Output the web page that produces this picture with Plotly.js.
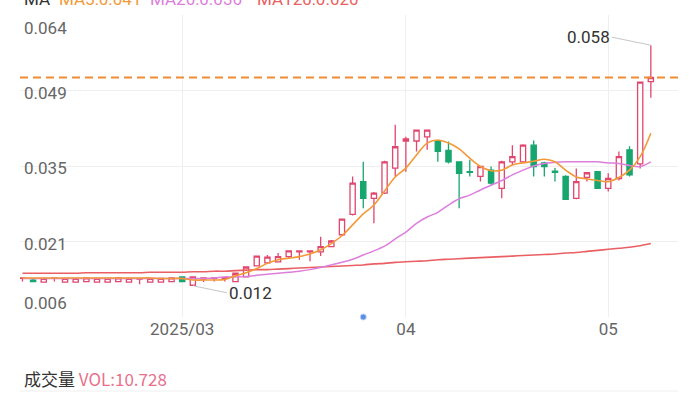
<!DOCTYPE html>
<html><head><meta charset="utf-8">
<script src="https://cdn.plot.ly/plotly-3.0.1.min.js"></script>
<style>html,body{margin:0;padding:0;background:#fff;}#chart{width:700px;height:394px;}</style>
</head><body><div id="chart"></div>
<script>
const dates = [
 '2025-02-10','2025-02-11','2025-02-12','2025-02-13','2025-02-14','2025-02-17','2025-02-18','2025-02-19','2025-02-20','2025-02-21',
 '2025-02-24','2025-02-25','2025-02-26','2025-02-27','2025-02-28',
 '2025-03-03','2025-03-04','2025-03-05','2025-03-06','2025-03-07','2025-03-10','2025-03-11','2025-03-12','2025-03-13','2025-03-14',
 '2025-03-17','2025-03-18','2025-03-19','2025-03-20','2025-03-21','2025-03-24','2025-03-25','2025-03-26','2025-03-27','2025-03-28','2025-03-31',
 '2025-04-01','2025-04-02','2025-04-03','2025-04-07','2025-04-08','2025-04-09','2025-04-10','2025-04-11','2025-04-14','2025-04-15',
 '2025-04-16','2025-04-17','2025-04-22','2025-04-23','2025-04-24','2025-04-25','2025-04-28','2025-04-29','2025-04-30',
 '2025-05-02','2025-05-06','2025-05-07','2025-05-08','2025-05-09'];
const open = [0.0134,0.0131,0.0127,0.0134,0.0127,0.0127,0.0128,0.0127,0.0127,0.0128,
 0.0127,0.0133,0.0127,0.0127,0.0128,
 0.0137,0.0121,0.0133,0.0134,0.0134,0.0128,0.0137,0.0158,0.0164,0.0166,
 0.0176,0.0185,0.0185,0.0185,0.0195,0.0218,0.0257,0.0320,0.0288,0.0298,0.0346,
 0.0398,0.0398,0.0406,0.0397,0.0380,0.0358,0.0339,0.0330,0.0342,0.0307,
 0.0358,0.0358,0.0390,0.0356,0.0340,0.0330,0.0288,0.0328,0.0339,
 0.0307,0.0326,0.0381,0.0354,0.0512];
const high = [0.0136,0.0134,0.0135,0.0135,0.0135,0.0135,0.0135,0.0135,0.0135,0.0135,
 0.0135,0.0135,0.0135,0.0135,0.0135,
 0.0137,0.0138,0.0136,0.0136,0.0137,0.0145,0.0157,0.0178,0.0179,0.0183,
 0.0188,0.0188,0.0188,0.0214,0.0208,0.0249,0.0330,0.0358,0.0300,0.0360,0.0429,
 0.0406,0.0420,0.0420,0.0400,0.0397,0.0358,0.0362,0.0350,0.0349,0.0360,
 0.0390,0.0392,0.0399,0.0358,0.0346,0.0332,0.0345,0.0338,0.0340,
 0.0336,0.0378,0.0388,0.0512,0.0582];
const low = [0.0128,0.0127,0.0127,0.0128,0.0127,0.0127,0.0127,0.0127,0.0127,0.0127,
 0.0127,0.0123,0.0127,0.0127,0.0127,
 0.0128,0.0120,0.0127,0.0128,0.0128,0.0127,0.0136,0.0157,0.0163,0.0165,
 0.0173,0.0170,0.0167,0.0177,0.0194,0.0217,0.0255,0.0269,0.0240,0.0296,0.0330,
 0.0339,0.0378,0.0381,0.0358,0.0355,0.0269,0.0330,0.0320,0.0314,0.0288,
 0.0352,0.0356,0.0330,0.0330,0.0320,0.0285,0.0286,0.0320,0.0306,
 0.0301,0.0322,0.0330,0.0345,0.0481];
const close = [0.0135,0.0128,0.0134,0.0135,0.0134,0.0134,0.0135,0.0134,0.0134,0.0135,
 0.0134,0.0134,0.0134,0.0134,0.0135,
 0.0128,0.0137,0.0135,0.0135,0.0136,0.0144,0.0156,0.0177,0.0175,0.0176,
 0.0187,0.0187,0.0187,0.0195,0.0206,0.0248,0.0317,0.0288,0.0298,0.0358,0.0387,
 0.0402,0.0419,0.0419,0.0378,0.0358,0.0336,0.0338,0.0349,0.0317,0.0358,
 0.0368,0.0390,0.0349,0.0349,0.0338,0.0286,0.0320,0.0337,0.0307,
 0.0326,0.0368,0.0333,0.0511,0.0520];
const ma5 = [0.0135,0.0135,0.0135,0.0135,0.0135,0.0135,0.0135,0.0135,0.0135,0.0135,
 0.0135,0.0135,0.0135,0.0134,0.0134,
 0.0134,0.0131,0.0131,0.0131,0.0132,0.0139,0.0145,0.0153,0.0163,0.0170,
 0.0173,0.0176,0.0181,0.0189,0.0201,0.0216,0.0237,0.0258,0.0275,0.0302,0.0329,
 0.0346,0.0371,0.0394,0.0400,0.0394,0.0383,0.0365,0.0349,0.0341,0.0342,
 0.0352,0.0356,0.0359,0.0363,0.0358,0.0342,0.0329,0.0325,0.0322,
 0.0320,0.0328,0.0342,0.0368,0.0413];
const ma20 = [0.0134,0.0134,0.0134,0.0134,0.0134,0.0134,0.0134,0.0134,0.0134,0.0134,
 0.0134,0.0134,0.0134,0.0134,0.0134,
 0.0134,0.0134,0.0134,0.0135,0.0137,0.0137,0.0138,0.0140,0.0142,0.0144,
 0.0146,0.0148,0.0151,0.0155,0.0160,0.0165,0.0171,0.0179,0.0187,0.0196,0.0210,
 0.0223,0.0240,0.0252,0.0261,0.0275,0.0287,0.0294,0.0304,0.0313,0.0322,
 0.0333,0.0342,0.0350,0.0355,0.0357,0.0358,0.0358,0.0358,0.0358,
 0.0356,0.0355,0.0351,0.0349,0.0358];
const ma120 = [0.0144,0.0144,0.0144,0.0144,0.0144,0.0144,0.0145,0.0145,0.0145,0.0145,
 0.0145,0.0145,0.0146,0.0146,0.0146,
 0.0146,0.0147,0.0147,0.0148,0.0148,0.0149,0.0150,0.0151,0.0151,0.0152,
 0.0153,0.0154,0.0155,0.0156,0.0157,0.0158,0.0159,0.0160,0.0162,0.0163,0.0165,
 0.0166,0.0167,0.0168,0.0170,0.0171,0.0172,0.0173,0.0174,0.0175,0.0176,
 0.0177,0.0178,0.0179,0.0180,0.0181,0.0183,0.0184,0.0186,0.0188,
 0.0190,0.0192,0.0194,0.0197,0.0201];
const yGridVals = [0.006,0.0205,0.035,0.0495,0.064];
const yGridText = ['0.006','0.021','0.035','0.049','0.064'];
const monthTickDates = ['2025-03-03','2025-04-01','2025-05-02'];
const monthTickText = ['2025/03','04','05'];
const eventDates = ['2025-03-26'];
const volumeValue = '10.728';

const RED = '#e0466e', GREEN = '#17a66e', ORANGE = '#f29a38', VIOLET = '#dc7fdc', MA120C = '#ea5f63';
const FONT = 'Roboto, "Noto Sans", sans-serif';

const traces = [
 {type:'candlestick', x:dates, open:open, high:high, low:low, close:close,
  increasing:{line:{color:RED,width:1.3}, fillcolor:'#ffffff'},
  decreasing:{line:{color:GREEN,width:1.3}, fillcolor:GREEN},
  whiskerwidth:0, hoverinfo:'skip', showlegend:false},
 {type:'scatter', mode:'lines', x:dates, y:ma120, line:{color:MA120C,width:1.6,shape:'spline'}, hoverinfo:'skip', showlegend:false},
 {type:'scatter', mode:'lines', x:dates, y:ma20, line:{color:VIOLET,width:1.5,shape:'spline'}, hoverinfo:'skip', showlegend:false},
 {type:'scatter', mode:'lines', x:dates, y:ma5, line:{color:ORANGE,width:1.6,shape:'spline'}, hoverinfo:'skip', showlegend:false},
 {type:'scatter', mode:'markers', x:eventDates, y:eventDates.map(()=>yGridVals[0]), cliponaxis:false,
  marker:{size:6,color:'#5a8ee6',line:{color:'#b9cff5',width:1}}, hoverinfo:'skip', showlegend:false}
];

const hi = Math.max(...high), lo = Math.min(...low);
const hiIdx = high.indexOf(hi), loIdx = low.indexOf(lo);
const lastClose = close[close.length-1];

const annotations = [];
const anchors = ['bottom','middle','middle','middle','top'];
const shifts = [2,-2,-2,-2,-1];
yGridVals.forEach((v,i)=>annotations.push({xref:'paper',x:0,xshift:2,xanchor:'left',yref:'y',y:v,yanchor:anchors[i],yshift:shifts[i],
  text:yGridText[i],showarrow:false,font:{family:FONT,size:17,color:'#666'}}));
annotations.push({x:dates[hiIdx],y:hi,text:hi.toFixed(3),showarrow:true,arrowhead:0,arrowwidth:1,arrowcolor:'#c6c6c6',
  ax:-39,ay:-8,xanchor:'right',yanchor:'middle',standoff:0,font:{family:FONT,size:17,color:'#333'}});
annotations.push({x:dates[loIdx],y:lo,text:lo.toFixed(3),showarrow:true,arrowhead:0,arrowwidth:1,arrowcolor:'#c6c6c6',
  ax:34,ay:7,xanchor:'left',yanchor:'middle',standoff:0,font:{family:FONT,size:17,color:'#333'}});
const legendItems = [
 {t:'MA', c:'#333', px:22},
 {t:'MA5:'+ma5[ma5.length-1].toFixed(3), c:ORANGE, px:57},
 {t:'MA20:'+ma20[ma20.length-1].toFixed(3), c:VIOLET, px:148},
 {t:'MA120:'+ma120[ma120.length-1].toFixed(3), c:MA120C, px:255}];
legendItems.forEach(it=>annotations.push({xref:'paper',yref:'paper',x:(it.px-20)/658,y:(317+1)/302,xanchor:'left',yanchor:'middle',
  text:it.t,showarrow:false,font:{family:FONT,size:17,color:it.c}}));
annotations.push({xref:'paper',yref:'paper',x:(22-20)/658,y:(317-378)/302,xanchor:'left',yanchor:'middle',showarrow:false,
  text:'成交量 <span style="color:#e9708c">VOL:'+volumeValue+'</span>',font:{family:'"Noto Sans CJK SC", Roboto, sans-serif',size:17,color:'#333'}});

const layout = {
 width:700,height:394,margin:{l:20,r:22,t:15,b:77},paper_bgcolor:'#fff',plot_bgcolor:'#fff',
 showlegend:false,
 xaxis:{type:'category',range:[-0.23,61.55],rangeslider:{visible:false},tickmode:'array',tickvals:monthTickDates,ticktext:monthTickText,
  showgrid:true,gridcolor:'#efefef',gridwidth:1,zeroline:false,showline:false,ticks:'',tickfont:{family:FONT,size:17,color:'#666'},fixedrange:true},
 yaxis:{range:[yGridVals[0],yGridVals[4]],tickmode:'array',tickvals:yGridVals,showticklabels:false,showgrid:true,gridcolor:'#efefef',
  zeroline:false,showline:false,ticks:'',fixedrange:true},
 shapes:[
  {type:'line',xref:'paper',x0:0,x1:1,yref:'y',y0:lastClose,y1:lastClose,line:{color:'#f08c32',width:2,dash:'8px,5px'}},
  {type:'line',xref:'paper',x0:0,x1:1,yref:'paper',y0:(317-391)/302,y1:(317-391)/302,line:{color:'#efefef',width:1}}
 ],
 annotations:annotations
};
Plotly.newPlot('chart',traces,layout,{staticPlot:true,displayModeBar:false});
</script></body></html>
